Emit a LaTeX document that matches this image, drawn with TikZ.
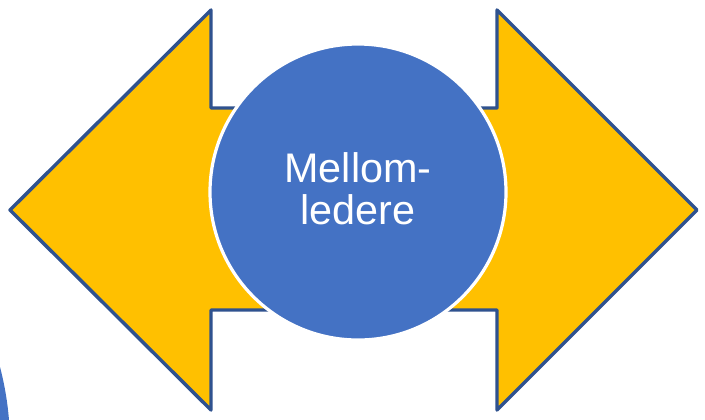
\documentclass[tikz,border=0pt]{standalone}
\usepackage{fontspec}
\setmainfont{Liberation Sans}
\usetikzlibrary{positioning}
\definecolor{pilgul}{HTML}{FFC000}
\definecolor{pilkant}{HTML}{2F528F}
\definecolor{rundblaa}{HTML}{4472C4}

\begin{document}
\begin{tikzpicture}[x=0.75pt, y=-0.75pt,
		pil/.style={fill=pilgul, draw=pilkant, line width=2.6pt, line join=round},
		hub/.style={circle, fill=rundblaa, draw=white, line width=2.4pt,
			minimum size=222pt, inner sep=0pt},
		hubtekst/.style={align=center, text=white, inner sep=0pt,
			font=\fontsize{31}{31}\selectfont}]
		% Frame of the slide
		\useasboundingbox (0,0) rectangle (705,419);
		\clip (0,0) rectangle (705,419);
		% Circle cut off at the lower left corner
		\fill[rundblaa] (-297,445) circle[radius=230.25pt];
		% Left arrow
		\draw[pil] (10,210) -- (211,10) -- (211,108) -- (300,108) -- (300,310)
			-- (211,310) -- (211,410) -- cycle;
		% Right arrow
		\draw[pil] (697,210) -- (497,10) -- (497,108) -- (410,108) -- (410,310)
			-- (497,310) -- (497,410) -- cycle;
		% Centre circle
		\node[hub] (mellom) at (358,192) {};
		\node[hubtekst] (mellomtekst) at ([yshift=2.5pt]mellom.center) {Mellom-\\ledere};
	\end{tikzpicture}
\end{document}
